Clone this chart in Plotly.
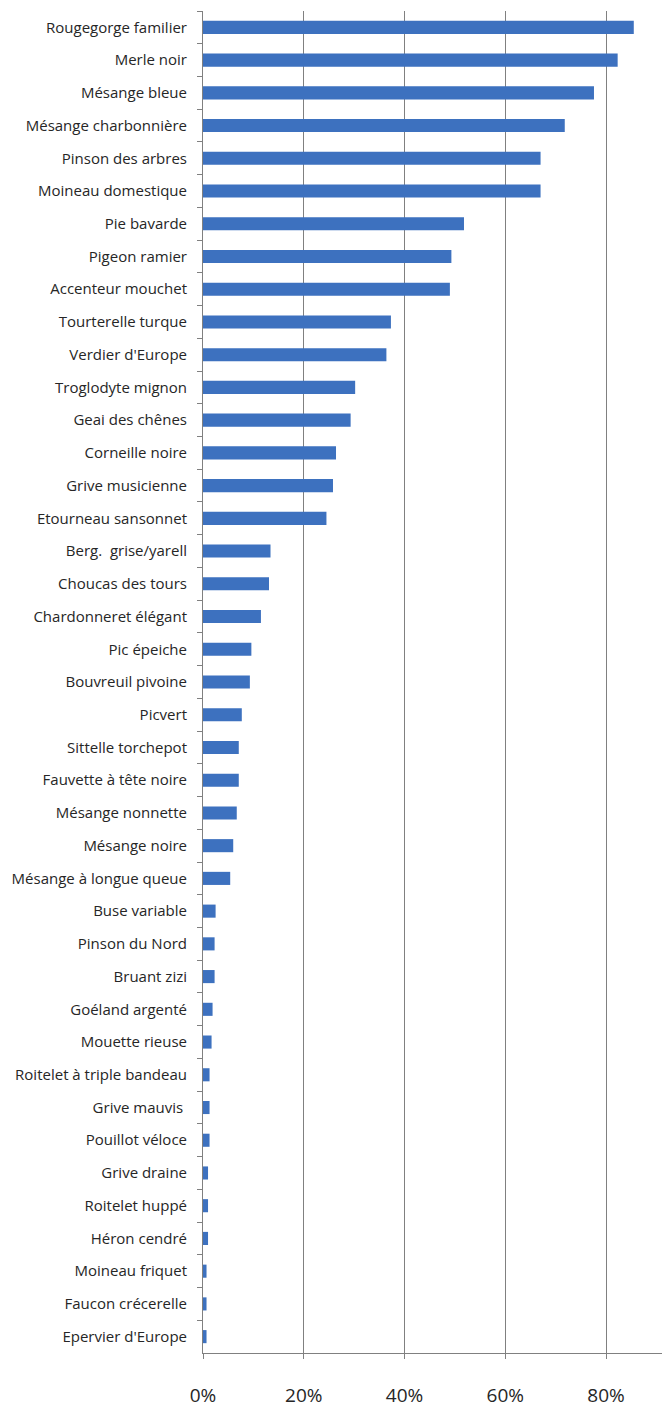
import plotly.graph_objects as go

species = [
    "Rougegorge familier", "Merle noir", "Mésange bleue", "Mésange charbonnière",
    "Pinson des arbres", "Moineau domestique", "Pie bavarde", "Pigeon ramier",
    "Accenteur mouchet", "Tourterelle turque", "Verdier d'Europe", "Troglodyte mignon",
    "Geai des chênes", "Corneille noire", "Grive musicienne", "Etourneau sansonnet",
    "Berg.  grise/yarell", "Choucas des tours", "Chardonneret élégant", "Pic épeiche",
    "Bouvreuil pivoine", "Picvert", "Sittelle torchepot", "Fauvette à tête noire",
    "Mésange nonnette", "Mésange noire", "Mésange à longue queue", "Buse variable",
    "Pinson du Nord", "Bruant zizi", "Goéland argenté", "Mouette rieuse",
    "Roitelet à triple bandeau", "Grive mauvis ", "Pouillot véloce", "Grive draine",
    "Roitelet huppé", "Héron cendré", "Moineau friquet", "Faucon crécerelle",
    "Epervier d'Europe",
]
percent = [
    85.5, 82.3, 77.6, 71.8, 67.0, 67.0, 51.8, 49.3, 49.0, 37.3, 36.4, 30.2,
    29.3, 26.4, 25.8, 24.5, 13.4, 13.1, 11.5, 9.6, 9.3, 7.7, 7.1, 7.1,
    6.7, 6.0, 5.4, 2.5, 2.3, 2.3, 1.9, 1.7, 1.3, 1.3, 1.3, 1.0,
    1.0, 1.0, 0.7, 0.7, 0.7,
]
tick_values = [0, 0.2, 0.4, 0.6, 0.8]
tick_labels = ["0%", "20%", "40%", "60%", "80%"]

fig = go.Figure(go.Bar(
    x=[p / 100 for p in percent],
    y=species,
    orientation="h",
    marker=dict(color="#3D71BF", line=dict(width=0)),
    hoverinfo="skip",
))

fig.update_layout(
    width=662, height=1408,
    margin=dict(l=203, r=0, t=11, b=55),
    paper_bgcolor="white", plot_bgcolor="white",
    bargap=0.6,
    showlegend=False,
    font=dict(family="Open Sans, sans-serif", color="#262626"),
)
fig.update_xaxes(
    range=[0, 0.911],
    tickvals=tick_values, ticktext=tick_labels,
    showgrid=True, gridcolor="#808080", gridwidth=1,
    showline=True, linecolor="#808080", linewidth=1,
    ticks="outside", ticklen=5, tickcolor="#808080",
    tickfont=dict(size=19, color="#262626"),
    ticklabelstandoff=20,
    zeroline=False,
)
fig.update_yaxes(
    autorange="reversed",
    showline=True, linecolor="#808080", linewidth=1,
    ticks="outside", ticklen=5, tickcolor="#808080", tickson="boundaries",
    showgrid=False,
    tickfont=dict(size=15, color="#262626"),
    ticklabelstandoff=12,
    automargin=False,
)

fig.write_html(
    "out.html",
    config={"displayModeBar": False},
    post_script="document.body.style.margin='0';document.body.style.overflow='hidden';",
)
